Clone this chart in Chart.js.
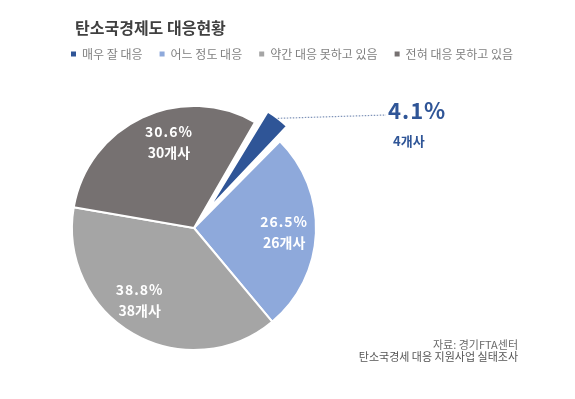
<!DOCTYPE html>
<html><head><meta charset="utf-8">
<script src="https://cdn.jsdelivr.net/npm/chart.js@4"></script>
<style>html,body{margin:0;padding:0;background:#fff}#wrap{position:relative;width:575px;height:399px}</style>
</head><body><div id="wrap"><canvas id="c" width="575" height="399"></canvas></div>
<script>
// ---- data ----
const categories = ['매우 잘 대응', '어느 정도 대응', '약간 대응 못하고 있음', '전혀 대응 못하고 있음'];
const percentValues = [4.1, 26.5, 38.8, 30.6];
const companyCounts = [4, 26, 38, 30];
const countSuffix = '개사';
const chartTitle = '탄소국경제도 대응현황';
const sourceLines = ['자료: 경기FTA센터', '탄소국경세 대응 지원사업 실태조사'];

// ---- styles ----
const sliceColors = ['#2F5597', '#8EA9DB', '#A5A5A5', '#767171'];
const FONT = '"Noto Sans CJK KR", "Noto Sans", sans-serif';
const DEG = Math.PI / 180;

const piePlugin = {
  id: 'piePlugin',
  afterLayout(chart, args, o) {
    const a = chart.chartArea, h = o.size / 2;
    a.left = o.cx - h; a.right = o.cx + h; a.top = o.cy - h; a.bottom = o.cy + h;
    a.width = o.size; a.height = o.size;
  },
  afterDatasetsUpdate(chart, args, o) {
    const meta = chart.getDatasetMeta(0);
    const offs = chart.data.datasets[0].offset;
    meta.data.forEach((arc, i) => {
      const off = Array.isArray(offs) ? offs[i] : (offs || 0);
      if (off) {
        const circ = arc.endAngle - arc.startAngle;
        const grow = (off / 4) * (1 - Math.sin(Math.min(Math.PI, circ)));
        arc.outerRadius = o.explodedRadius - grow;
      }
    });
  },
  afterDatasetsDraw(chart, args, o) {
    const ctx = chart.ctx;
    const meta = chart.getDatasetMeta(0);
    const offs = chart.data.datasets[0].offset;
    meta.data.forEach((arc, i) => {
      const mid = (arc.startAngle + arc.endAngle) / 2;
      if (i === o.calloutIndex) {
        const s = (Array.isArray(offs) ? offs[i] : 0) / 4;
        const sx = arc.x + Math.cos(mid) * (s + o.explodedRadius);
        const sy = arc.y + Math.sin(mid) * (s + o.explodedRadius);
        ctx.save();
        ctx.strokeStyle = '#7F93B8';
        ctx.lineWidth = 1.2;
        ctx.setLineDash([1.5, 1.5]);
        ctx.beginPath(); ctx.moveTo(sx, sy); ctx.lineTo(o.lineEndX, o.lineEndY); ctx.stroke();
        ctx.setLineDash([]);
        ctx.fillStyle = sliceColors[i];
        ctx.textAlign = 'left'; ctx.textBaseline = 'middle';
        ctx.font = 'bold 22px ' + FONT;
        ctx.letterSpacing = '1px';
        ctx.fillText(percentValues[i].toFixed(1) + '%', o.calloutX, o.calloutY);
        ctx.letterSpacing = '0px';
        ctx.font = 'bold 13px ' + FONT;
        ctx.fillText(companyCounts[i] + countSuffix, o.calloutX + 5, o.calloutY + 30);
        ctx.restore();
        return;
      }
      const ang = mid + (o.angleAdjust[i] || 0) * DEG;
      const r = o.radius * o.labelDist;
      const x = arc.x + Math.cos(ang) * r, y = arc.y + Math.sin(ang) * r;
      ctx.save();
      ctx.fillStyle = '#ffffff';
      ctx.textAlign = 'center'; ctx.textBaseline = 'middle';
      ctx.font = 'bold 14px ' + FONT;
      ctx.letterSpacing = '1px';
      ctx.fillText(percentValues[i].toFixed(1) + '%', x, y - 10);
      ctx.letterSpacing = '0px';
      ctx.fillText(companyCounts[i] + countSuffix, x, y + 11);
      ctx.restore();
    });
  },
  afterDraw(chart, args, o) {
    const ctx = chart.ctx;
    ctx.save();
    ctx.fillStyle = '#404040';
    ctx.font = 'bold 16px ' + FONT;
    ctx.textAlign = 'left'; ctx.textBaseline = 'middle';
    ctx.fillText(chartTitle, 75, 28);
    ctx.font = '11px ' + FONT;
    ctx.textAlign = 'right';
    ctx.fillStyle = '#6a6a6a';
    ctx.fillText(sourceLines[0], 518, 345);
    ctx.fillStyle = '#555555';
    ctx.fillText(sourceLines[1], 518, 357);
    ctx.restore();
  }
};

const baseLabels = Chart.overrides.pie.plugins.legend.labels.generateLabels;

new Chart(document.getElementById('c'), {
  type: 'pie',
  data: {
    labels: categories,
    datasets: [{
      data: percentValues,
      backgroundColor: sliceColors,
      borderColor: '#ffffff',
      borderWidth: 2,
      offset: [92, 0, 0, 0],
      hoverOffset: 0,
      radius: 122
    }]
  },
  options: {
    responsive: false,
    devicePixelRatio: 1,
    animation: false,
    events: [],
    rotation: 30,
    layout: { padding: { left: 54, top: 31, right: 0, bottom: 0 } },
    plugins: {
      title: { display: false },
      tooltip: { enabled: false },
      legend: {
        display: true,
        position: 'top',
        align: 'start',
        labels: {
          boxWidth: 5,
          boxHeight: 5,
          padding: 17,
          color: '#808080',
          font: { size: 12, family: FONT },
          generateLabels: (chart) => baseLabels(chart).map(l => Object.assign(l, { lineWidth: 0, strokeStyle: l.fillStyle }))
        }
      },
      piePlugin: {
        cx: 194, cy: 228, size: 300,
        radius: 122,
        explodedRadius: 115,
        calloutIndex: 0,
        lineEndX: 386, lineEndY: 115,
        calloutX: 388, calloutY: 111,
        labelDist: 0.74,
        angleAdjust: [0, 0, 7, 9]
      }
    }
  },
  plugins: [piePlugin]
});
</script>
</body></html>
